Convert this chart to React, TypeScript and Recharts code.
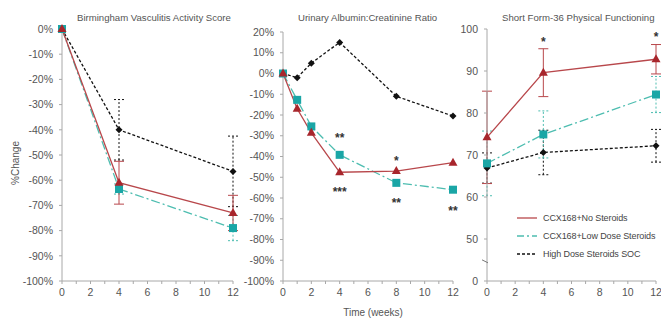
import React from "react";
import { LineChart, Line, XAxis, YAxis, ErrorBar, ReferenceDot } from "recharts";

// Birmingham Vasculitis Activity Score (% change)
const bvasWeeks = [0, 4, 12];
const bvasNoSteroids = [0, -61, -73];
const bvasNoSteroidsErr = [0, 8.5, 7];
const bvasLowDose = [0, -63.5, -79];
const bvasLowDoseErr = [0, 2, 5];
const bvasSoc = [0, -40, -56.5];
const bvasSocErr = [0, 12, 14];

// Urinary albumin:creatinine ratio (% change)
const uacrWeeks = [0, 1, 2, 4, 8, 12];
const uacrNoSteroids = [0, -17, -28.6, -47.6, -47, -43];
const uacrLowDose = [0, -12.7, -25.5, -39.2, -52.7, -56];
const uacrSoc = [0, -2, 5, 15, -11, -20.5];
const uacrStars = [
  { week: 4, value: -31, text: "**" },
  { week: 4, value: -57, text: "***" },
  { week: 8, value: -42, text: "*" },
  { week: 8, value: -62.5, text: "**" },
  { week: 12, value: -66, text: "**" },
];

// SF-36 physical functioning (score)
const sfWeeks = [0, 4, 12];
const sfNoSteroids = [74.2, 89.6, 92.8];
const sfNoSteroidsErr = [11, 5.7, 3.5];
const sfLowDose = [68, 74.9, 84.4];
const sfLowDoseErr = [7.7, 5.6, 4.3];
const sfSoc = [66.9, 70.6, 72.2];
const sfSocErr = [3.6, 5.3, 3.9];
const sfStars = [
  { week: 4, value: 96.9, text: "*" },
  { week: 12, value: 98.1, text: "*" },
];

const pctTicks1 = [0, -10, -20, -30, -40, -50, -60, -70, -80, -90, -100];
const pctTicks2 = [20, 10, ...pctTicks1];
const sfTicks = [40, 50, 60, 70, 80, 90, 100];
const weekTicks = [0, 1, 2, 3, 4, 5, 6, 7, 8, 9, 10, 11, 12];

const seriesNames = ["CCX168+No Steroids", "CCX168+Low Dose Steroids", "High Dose Steroids SOC"];

const RED = "#a8262c";
const RED_LINE = "#b8474b";
const TEAL = "#1aa6a6";
const TEAL_LINE = "#4dbdb0";
const BLACK = "#111";
const FONT = "Liberation Sans, Arial, sans-serif";
const AXIS = "#a8a8a8";
const TXT = "#555";

const TEAL_DASH = "9 3 2 3";
const SOC_DASH = "3 2";

const rows = (weeks: number[], cols: Record<string, number[]>) =>
  weeks.map((w, i) => {
    const r: Record<string, number> = { week: w };
    Object.keys(cols).forEach((k) => (r[k] = cols[k][i]));
    return r;
  });

const bvasData = rows(bvasWeeks, {
  red: bvasNoSteroids, redErr: bvasNoSteroidsErr,
  teal: bvasLowDose, tealErr: bvasLowDoseErr,
  soc: bvasSoc, socErr: bvasSocErr,
});
const uacrData = rows(uacrWeeks, { red: uacrNoSteroids, teal: uacrLowDose, soc: uacrSoc });
const sfData = rows(sfWeeks, {
  red: sfNoSteroids, redErr: sfNoSteroidsErr,
  teal: sfLowDose, tealErr: sfLowDoseErr,
  soc: sfSoc, socErr: sfSocErr,
});

const triangle = (p: any) =>
  p.cx == null ? <g key={p.key} /> : (
    <polygon key={p.key} points={`${p.cx},${p.cy - 5} ${p.cx + 4.5},${p.cy + 3} ${p.cx - 4.5},${p.cy + 3}`} fill={RED} />
  );
const square = (p: any) =>
  p.cx == null ? <g key={p.key} /> : (
    <rect key={p.key} x={p.cx - 4} y={p.cy - 4} width={8} height={8} fill={TEAL} />
  );
const diamond = (p: any) =>
  p.cx == null ? <g key={p.key} /> : (
    <polygon key={p.key} points={`${p.cx},${p.cy - 3.5} ${p.cx + 3.5},${p.cy} ${p.cx},${p.cy + 3.5} ${p.cx - 3.5},${p.cy}`} fill={BLACK} />
  );

const tickStyle = { fill: TXT, fontSize: 10.5, fontFamily: FONT };
const weekFmt = (v: number) => (v % 2 === 0 ? String(v) : "");
const pctFmt = (v: number) => `${v}%`;

const xAxis = (
  <XAxis
    dataKey="week"
    type="number"
    domain={[0, 12]}
    ticks={weekTicks}
    interval={0}
    tickFormatter={weekFmt}
    stroke={AXIS}
    tick={tickStyle}
    tickSize={3}
    tickMargin={5}
    height={20}
  />
);

const starLabel = (text: string) => ({
  value: text,
  position: "center" as const,
  fill: "#333",
  fontSize: 12,
  fontWeight: 700,
  fontFamily: FONT,
});

// little "//" on the SF-36 y axis between 0 and 50
const BreakMark = (p: any) => (
  <line x1={p.cx - 5} y1={p.cy - 1} x2={p.cx + 1} y2={p.cy + 2} stroke="#777" strokeWidth={1} />
);

export default function App() {
  return (
    <div style={{ position: "absolute", left: 0, top: 0, width: 661, height: 322, background: "#fff", overflow: "hidden", fontFamily: FONT }}>
      {/* panel 1 */}
      <div style={{ position: "absolute", left: 0, top: 0 }}>
        <LineChart width={240} height={322} data={bvasData} margin={{ top: 29, right: 7, bottom: 21, left: 0 }}>
          {xAxis}
          <YAxis domain={[-100, 0]} ticks={pctTicks1} interval={0} tickFormatter={pctFmt} stroke={AXIS} tick={tickStyle} tickSize={3} tickMargin={6} width={62} />
          <Line dataKey="soc" stroke={BLACK} strokeWidth={1.3} strokeDasharray={SOC_DASH} dot={diamond} isAnimationActive={false}>
            <ErrorBar dataKey="socErr" width={5} stroke={BLACK} strokeWidth={1} strokeDasharray="2 2" />
          </Line>
          <Line dataKey="teal" stroke={TEAL_LINE} strokeWidth={1.3} strokeDasharray={TEAL_DASH} dot={square} isAnimationActive={false}>
            <ErrorBar dataKey="tealErr" width={5} stroke={TEAL_LINE} strokeWidth={1} strokeDasharray="2 2" />
          </Line>
          <Line dataKey="red" stroke={RED_LINE} strokeWidth={1.3} dot={triangle} isAnimationActive={false}>
            <ErrorBar dataKey="redErr" width={5} stroke={RED_LINE} strokeWidth={1} />
          </Line>
        </LineChart>
      </div>

      {/* panel 2 */}
      <div style={{ position: "absolute", left: 225, top: 0 }}>
        <LineChart width={237} height={322} data={uacrData} margin={{ top: 32, right: 9, bottom: 21, left: 0 }}>
          {xAxis}
          <YAxis domain={[-100, 20]} ticks={pctTicks2} interval={0} tickFormatter={pctFmt} stroke={AXIS} tick={tickStyle} tickSize={3} tickMargin={6} width={58} />
          <Line dataKey="soc" stroke={BLACK} strokeWidth={1.3} strokeDasharray={SOC_DASH} dot={diamond} isAnimationActive={false} />
          <Line dataKey="teal" stroke={TEAL_LINE} strokeWidth={1.3} strokeDasharray={TEAL_DASH} dot={square} isAnimationActive={false} />
          <Line dataKey="red" stroke={RED_LINE} strokeWidth={1.3} dot={triangle} isAnimationActive={false} />
          {uacrStars.map((s, i) => (
            <ReferenceDot key={i} x={s.week} y={s.value} r={0} stroke="none" fill="none" label={starLabel(s.text)} />
          ))}
        </LineChart>
      </div>

      {/* panel 3 */}
      <div style={{ position: "absolute", left: 440, top: 0 }}>
        <LineChart width={226} height={322} data={sfData} margin={{ top: 29, right: 10, bottom: 21, left: 0 }}>
          {xAxis}
          <YAxis domain={[40, 100]} ticks={sfTicks} interval={0} tickFormatter={(v: number) => (v === 40 ? "0" : String(v))} stroke={AXIS} tick={tickStyle} tickSize={3} tickMargin={6} width={47} />
          <Line dataKey="soc" stroke={BLACK} strokeWidth={1.3} strokeDasharray={SOC_DASH} dot={diamond} isAnimationActive={false}>
            <ErrorBar dataKey="socErr" width={5} stroke={BLACK} strokeWidth={1} strokeDasharray="2 2" />
          </Line>
          <Line dataKey="teal" stroke={TEAL_LINE} strokeWidth={1.3} strokeDasharray={TEAL_DASH} dot={square} isAnimationActive={false}>
            <ErrorBar dataKey="tealErr" width={5} stroke={TEAL_LINE} strokeWidth={1} strokeDasharray="2 2" />
          </Line>
          <Line dataKey="red" stroke={RED_LINE} strokeWidth={1.3} dot={triangle} isAnimationActive={false}>
            <ErrorBar dataKey="redErr" width={5} stroke={RED_LINE} strokeWidth={1} />
          </Line>
          {sfStars.map((s, i) => (
            <ReferenceDot key={i} x={s.week} y={s.value} r={0} stroke="none" fill="none" label={starLabel(s.text)} />
          ))}
          <ReferenceDot x={0} y={44.8} r={0} shape={BreakMark} />
        </LineChart>
      </div>

      {/* titles */}
      <div style={{ position: "absolute", left: 77, top: 12, fontSize: 9.6, color: TXT, whiteSpace: "nowrap" }}>Birmingham Vasculitis Activity Score</div>
      <div style={{ position: "absolute", left: 298, top: 12, fontSize: 9.6, color: TXT, whiteSpace: "nowrap" }}>Urinary Albumin:Creatinine Ratio</div>
      <div style={{ position: "absolute", left: 502, top: 12, fontSize: 9.6, color: TXT, whiteSpace: "nowrap" }}>Short Form-36 Physical Functioning</div>

      {/* axis titles */}
      <div style={{ position: "absolute", left: 15, top: 163, transform: "translate(-50%, -50%) rotate(-90deg)", fontSize: 10, color: TXT, whiteSpace: "nowrap" }}>%Change</div>
      <div style={{ position: "absolute", left: 373, top: 312, transform: "translate(-50%, -50%)", fontSize: 10, color: TXT, whiteSpace: "nowrap" }}>Time (weeks)</div>

      {/* legend */}
      <div style={{ position: "absolute", left: 516, top: 209, fontSize: 9, letterSpacing: -0.1, color: "#444", whiteSpace: "nowrap", lineHeight: "18px" }}>
        {seriesNames.map((name, i) => (
          <div key={name} style={{ display: "flex", alignItems: "center" }}>
            <svg width={22} height={10} style={{ marginRight: 5 }}>
              <line
                x1={1}
                y1={5}
                x2={21}
                y2={5}
                stroke={[RED_LINE, TEAL_LINE, BLACK][i]}
                strokeWidth={1.3}
                strokeDasharray={[undefined, "7 3 2 3", "3 2"][i]}
              />
            </svg>
            <span>{name}</span>
          </div>
        ))}
      </div>
    </div>
  );
}
